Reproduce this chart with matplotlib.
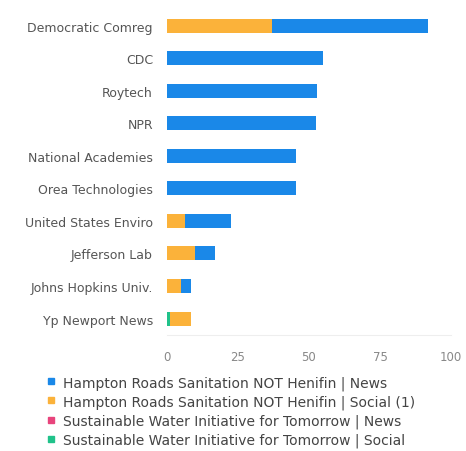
import numpy as np
import matplotlib.pyplot as plt

# Categories (top to bottom)
names = ['Democratic Comreg', 'CDC', 'Roytech', 'NPR', 'National Academies',
         'Orea Technologies', 'United States Enviro', 'Jefferson Lab',
         'Johns Hopkins Univ.', 'Yp Newport News']

# Series values
swift_social = [0, 0, 0, 0, 0, 0, 0, 0, 0, 1]
swift_news = [0, 0, 0, 0, 0, 0, 0, 0, 0, 0]
hrsd_social = [37, 0, 0, 0, 0, 0, 6.5, 10, 5, 7.5]
hrsd_news = [55, 55, 53, 52.5, 45.5, 45.5, 16, 7, 3.5, 0]

series = [
    ('Sustainable Water Initiative for Tomorrow | Social', swift_social, '#20C28A'),
    ('Sustainable Water Initiative for Tomorrow | News', swift_news, '#E8447C'),
    ('Hampton Roads Sanitation NOT Henifin | Social (1)', hrsd_social, '#FBB23A'),
    ('Hampton Roads Sanitation NOT Henifin | News', hrsd_news, '#1A88E8'),
]

fig = plt.figure(figsize=(4.66, 4.52), dpi=100)
ax = fig.add_axes([0.358, 0.257, 0.61, 0.72])

y = np.arange(len(names))
left = np.zeros(len(names))
for label, vals, color in series:
    vals = np.array(vals, dtype=float)
    ax.barh(y, vals, left=left, height=0.43, color=color, label=label)
    left += vals

ax.set_yticks(y)
ax.set_yticklabels(names, fontsize=9, color='#555555')
ax.set_ylim(len(names) - 0.5, -0.5)
ax.set_xlim(0, 100)
ax.set_xticks([0, 25, 50, 75, 100])
ax.tick_params(axis='x', colors='#888888', labelsize=8.5, length=0, pad=11)
ax.tick_params(axis='y', length=0, pad=10)
for s in ['top', 'right', 'left']:
    ax.spines[s].set_visible(False)
ax.spines['bottom'].set_color('#eeeeee')

# legend below the chart
order = ['Hampton Roads Sanitation NOT Henifin | News',
         'Hampton Roads Sanitation NOT Henifin | Social (1)',
         'Sustainable Water Initiative for Tomorrow | News',
         'Sustainable Water Initiative for Tomorrow | Social']
colors = {l: c for l, _, c in series}
proxies = [plt.Line2D([], [], marker='s', linestyle='', markersize=5,
                      color=colors[l]) for l in order]
leg = fig.legend(proxies, order, loc='upper left', bbox_to_anchor=(0.082, 0.183),
                 frameon=False, fontsize=10, handletextpad=0.5,
                 labelspacing=0.33, handlelength=0.8, borderpad=0)
for t in leg.get_texts():
    t.set_color('#444444')

fig.savefig('out.png', dpi=100)
